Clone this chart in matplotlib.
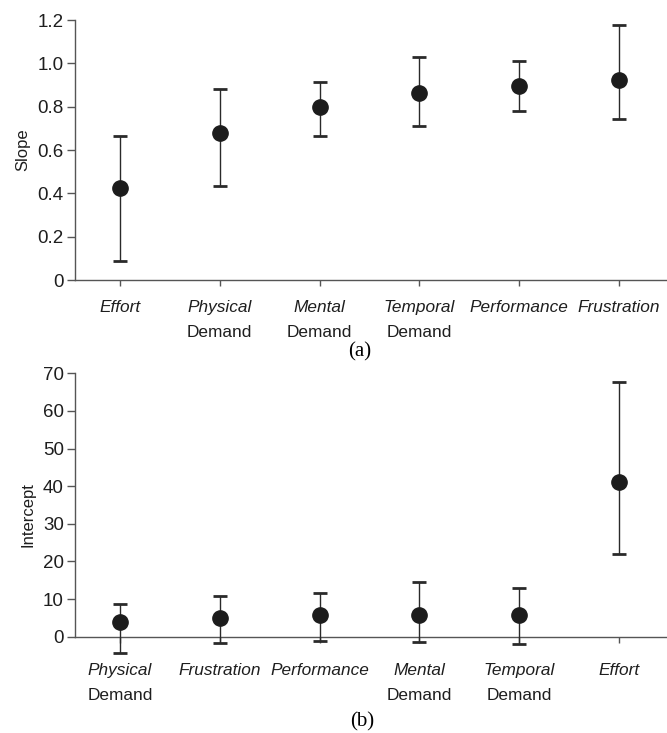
import numpy as np
import matplotlib.pyplot as plt

# panel (a): slope estimates with intervals
slope_top = ["Effort", "Physical", "Mental", "Temporal", "Performance", "Frustration"]
slope_bot = ["", "Demand", "Demand", "Demand", "", ""]
slope_val = [0.426, 0.680, 0.800, 0.863, 0.897, 0.924]
slope_hi = [0.665, 0.880, 0.914, 1.028, 1.009, 1.175]
slope_lo = [0.086, 0.434, 0.665, 0.709, 0.778, 0.743]

# panel (b): intercept estimates with intervals
icpt_top = ["Physical", "Frustration", "Performance", "Mental", "Temporal", "Effort"]
icpt_bot = ["Demand", "", "", "Demand", "Demand", ""]
icpt_val = [3.8, 5.1, 5.7, 5.9, 5.9, 41.1]
icpt_hi = [8.6, 10.7, 11.5, 14.5, 12.9, 67.6]
icpt_lo = [-4.2, -1.8, -1.2, -1.5, -2.0, 22.0]

plt.rcParams['font.family'] = ['Liberation Sans', 'DejaVu Sans']
plt.rcParams['font.size'] = 12

fig = plt.figure(figsize=(6.67, 7.33), dpi=100)
ax1 = fig.add_axes([0.1124, 0.618, 0.8876, 0.3547])
ax2 = fig.add_axes([0.1124, 0.1057, 0.8876, 0.385])

spine_col = '#555555'
mark_col = '#1c1c1c'
txt_col = '#1e1e1e'


def draw_panel(ax, top, bot, val, hi, lo, ylim, yticks, ylabels, ylab, off1, off2):
    x = np.arange(len(val))
    val = np.array(val)
    err = [val - np.array(lo), np.array(hi) - val]
    ax.errorbar(x, val, yerr=err, fmt='o', color=mark_col, ecolor='#2a2a2a',
                elinewidth=1.0, capsize=5, capthick=2.0, markersize=11, zorder=3)
    ax.set_xlim(-0.45, 5.48)
    ax.set_ylim(*ylim)
    ax.spines['top'].set_visible(False)
    ax.spines['right'].set_visible(False)
    ax.spines['bottom'].set_position(('data', 0))
    ax.spines['left'].set_bounds(0, yticks[-1])
    for s in ('left', 'bottom'):
        ax.spines[s].set_color(spine_col)
        ax.spines[s].set_linewidth(1.0)
    ax.set_yticks(yticks)
    ax.set_yticklabels(ylabels, fontsize=13.5, color=txt_col)
    ax.set_xticks(x)
    ax.set_xticklabels([''] * len(x))
    ax.tick_params(axis='both', color=spine_col, width=1.0)
    ax.tick_params(axis='y', length=6, pad=2)
    ax.tick_params(axis='x', length=4)
    ax.set_ylabel(ylab, fontsize=12, color=txt_col, labelpad=5)
    for i in range(len(x)):
        ax.annotate(top[i], xy=(x[i], 0), xycoords='data', xytext=(0, -off1),
                    textcoords='offset pixels', ha='center', va='center',
                    fontsize=12.4, style='italic', color=txt_col)
        if bot[i]:
            ax.annotate(bot[i], xy=(x[i], 0), xycoords='data', xytext=(0, -off2),
                        textcoords='offset pixels', ha='center', va='center',
                        fontsize=12.4, color=txt_col)


draw_panel(ax1, slope_top, slope_bot, slope_val, slope_hi, slope_lo, (0, 1.2),
           [0, 0.2, 0.4, 0.6, 0.8, 1.0, 1.2], ['0', '0.2', '0.4', '0.6', '0.8', '1.0', '1.2'],
           'Slope', 27, 52)
draw_panel(ax2, icpt_top, icpt_bot, icpt_val, icpt_hi, icpt_lo, (-5, 70),
           [0, 10, 20, 30, 40, 50, 60, 70], ['0', '10', '20', '30', '40', '50', '60', '70'],
           'Intercept', 34, 59)

fig.text(360 / 667, 1 - 352 / 733, '(a)', ha='center', va='center', fontsize=15,
         family=['Liberation Serif', 'DejaVu Serif'])
fig.text(362 / 667, 1 - 722 / 733, '(b)', ha='center', va='center', fontsize=15,
         family=['Liberation Serif', 'DejaVu Serif'])

fig.savefig('out.png', dpi=100)
